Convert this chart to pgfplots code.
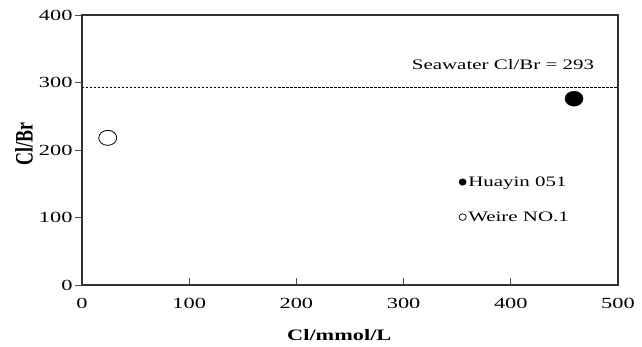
\documentclass[border=0pt]{standalone}
\usepackage{graphicx}
\usepackage{fontspec}
\setmainfont{Liberation Serif}[FakeStretch=1.45]
\newfontfamily\labfont{Liberation Serif Bold}
\usepackage{pgfplots}
\pgfplotsset{compat=1.18}
\begin{document}
\begin{tikzpicture}
\begin{axis}[
  scale only axis, width=536bp, height=270bp,
  xmin=0, xmax=500, ymin=0, ymax=400,
  xtick={0,100,...,500}, ytick={0,100,...,400},
  tick align=inside, xtick pos=bottom, ytick pos=left,
  major tick length=7bp,
  y tick style={xshift=-7bp},
  axis line style={line width=1.2bp, black!80},
  tick style={line width=0.9bp, black!70},
  ticklabel style={font=\fontsize{15.5}{17}\selectfont},
  /pgf/number format/assume math mode=true,
  yticklabel style={xshift=-6bp},
  xticklabel style={yshift=-10bp},
  xlabel={\scalebox{1.4}[1]{\labfont Cl/mmol/L}},
  xlabel style={font=\fontsize{16}{18}\selectfont, at={(axis description cs:0.48,-0.204)}, anchor=base},
  ylabel={\scalebox{1}[1.4]{\labfont Cl/Br}},
  ylabel style={font=\fontsize{18}{20}\selectfont, at={(axis description cs:-0.108,0.522)}, anchor=center},
  legend style={at={(0.703,0.41)}, anchor=north west, draw=none, fill=none,
    font=\fontsize{14.5}{16}\selectfont, row sep=20bp, cells={anchor=west}, inner sep=0pt},
]
\addplot[black, line width=1.4bp, dash pattern=on 2.5bp off 1.5bp, forget plot] coordinates {(0,293) (500,293)};
\addplot[only marks, mark=*, mark size=7.5bp, mark options={xscale=1.2, fill=black, draw=black},
  legend image code/.code={\draw[black, fill=black] plot[mark=*, mark size=3.3bp, mark options={xscale=1.1}] coordinates {(0.1cm,0)};}]
  coordinates {(459,276)};
\addlegendentry{Huayin 051}
\addplot[only marks, mark=o, mark size=7.5bp, mark options={xscale=1.2, draw=black, line width=0.8bp},
  legend image code/.code={\draw[black, line width=0.7bp] plot[mark=o, mark size=3.3bp, mark options={xscale=1.1}] coordinates {(0.1cm,0)};}]
  coordinates {(24,218)};
\addlegendentry{Weire NO.1}
\node[anchor=east, font=\fontsize{14.5}{16}\selectfont] at (axis cs:481,327) {Seawater Cl/Br = 293};
\end{axis}
\path ([xshift=-82bp,yshift=-62bp]current axis.south west) rectangle ([xshift=24bp,yshift=15bp]current axis.north east);
\end{tikzpicture}
\end{document}
